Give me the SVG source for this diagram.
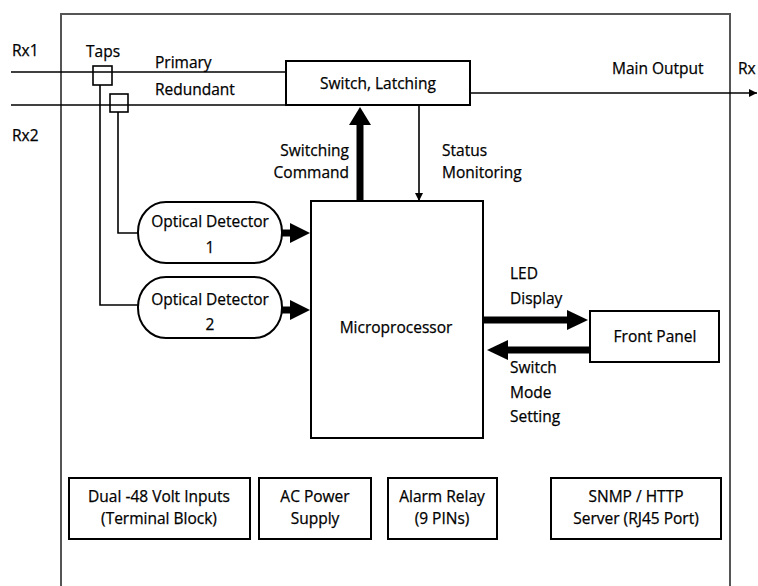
<svg xmlns="http://www.w3.org/2000/svg" width="758" height="586" viewBox="0 0 758 586">
<style>
text{font-family:"Open Sans","Liberation Sans",sans-serif;font-size:15.5px;fill:#000;stroke:#000;stroke-width:0.25}
.c{text-anchor:middle}
.box{fill:#fff;stroke:#000;stroke-width:2}
.ln{fill:none;stroke:#000;stroke-width:1.6}
.thick{fill:none;stroke:#000;stroke-width:7}
</style>
<defs>
<marker id="sm" viewBox="0 0 10 10" refX="10" refY="5" markerWidth="8" markerHeight="8" markerUnits="userSpaceOnUse" orient="auto"><path d="M0,0 L10,5 L0,10 Z" fill="#000"/></marker>
</defs>
<rect width="758" height="586" fill="#fff"/>
<rect id="enclosure" x="61" y="14" width="669" height="600" fill="none" stroke="#555" stroke-width="2"/>
<g id="labels">
<text x="12" y="56">Rx1</text>
<text x="12" y="141">Rx2</text>
<text x="86" y="57">Taps</text>
<text x="155" y="68">Primary</text>
<text x="155" y="95">Redundant</text>
<text x="612" y="74">Main Output</text>
<text x="738" y="74">Rx</text>
<text x="349" y="156" text-anchor="end">Switching</text>
<text x="349" y="178" text-anchor="end">Command</text>
<text x="442" y="156">Status</text>
<text x="442" y="178">Monitoring</text>
<text x="510" y="279">LED</text>
<text x="510" y="304">Display</text>
<text x="510" y="373">Switch</text>
<text x="510" y="398">Mode</text>
<text x="510" y="422">Setting</text>
</g>
<g id="connectors">
<path class="ln" d="M11,72 H286"/>
<path class="ln" d="M11,105 H286"/>
<path class="ln" d="M100,85 V305 H138"/>
<path class="ln" d="M118,112 V233 H138"/>
<path class="ln" d="M466,93 H757" marker-end="url(#sm)"/>
<path class="ln" d="M419,105 V201" marker-end="url(#sm)"/>
<path class="thick" d="M360,201 V122"/>
<polygon points="360,107 349,125 371,125"/>
<path class="thick" d="M282,233 H292"/>
<polygon points="310,233 290,223 290,243"/>
<path class="thick" d="M282,310 H292"/>
<polygon points="310,310 290,300 290,320"/>
<path class="thick" d="M483,320 H570"/>
<polygon points="588,320 567,310 567,330"/>
<path class="thick" d="M590,350 H505"/>
<polygon points="487,350 508,340 508,360"/>
</g>
<g id="tap1"><rect x="93" y="66" width="19" height="19" class="ln"/></g>
<g id="tap2"><rect x="110" y="94" width="18" height="18" class="ln"/></g>
<g id="switch"><rect x="286" y="61" width="184" height="44" class="box"/><text x="378" y="89" class="c">Switch, Latching</text></g>
<g id="det1"><rect x="138" y="202" width="144" height="61" rx="28" ry="30" class="box"/><text x="210" y="227" class="c">Optical Detector</text><text x="210" y="253" class="c">1</text></g>
<g id="det2"><rect x="138" y="277" width="144" height="61" rx="28" ry="30" class="box"/><text x="210" y="305" class="c">Optical Detector</text><text x="210" y="330" class="c">2</text></g>
<g id="micro"><rect x="311" y="201" width="172" height="237" class="box"/><text x="396" y="333" class="c">Microprocessor</text></g>
<g id="front"><rect x="590" y="311" width="129" height="51" class="box"/><text x="655" y="342" class="c">Front Panel</text></g>
<g id="power48"><rect x="69" y="478" width="181" height="61" class="box"/><text x="159" y="502" class="c">Dual -48 Volt Inputs</text><text x="159" y="524" class="c">(Terminal Block)</text></g>
<g id="acpower"><rect x="259" y="478" width="112" height="61" class="box"/><text x="315" y="502" class="c">AC Power</text><text x="315" y="524" class="c">Supply</text></g>
<g id="alarm"><rect x="388" y="478" width="109" height="61" class="box"/><text x="442" y="502" class="c">Alarm Relay</text><text x="442" y="524" class="c">(9 PINs)</text></g>
<g id="snmp"><rect x="551" y="478" width="170" height="61" class="box"/><text x="636" y="502" class="c">SNMP / HTTP</text><text x="636" y="524" class="c">Server (RJ45 Port)</text></g>
</svg>
